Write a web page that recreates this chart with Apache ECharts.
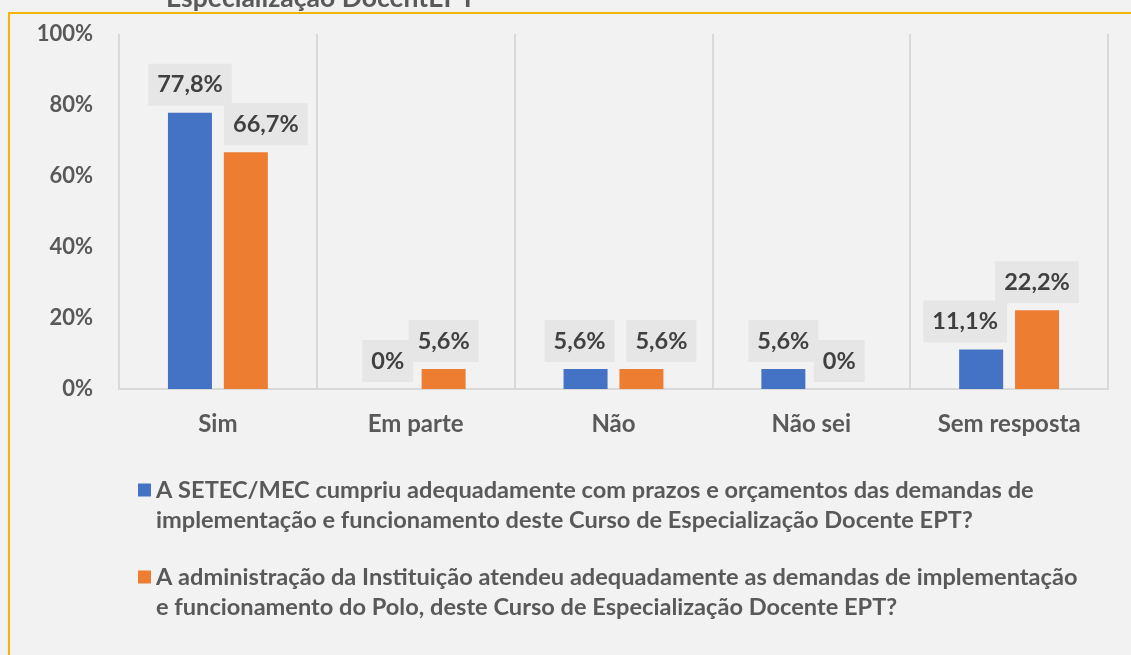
<!DOCTYPE html>
<html lang="pt">
<head>
    <meta charset="UTF-8">
    <title>echarts</title>
    <style>
        html, body { margin: 0; padding: 0; background: #f2f2f2; }
    </style>
    <script src="https://cdn.jsdelivr.net/npm/echarts@6/dist/echarts.min.js"></script>
</head>
<body>
<div id="main" style="width:1131px;height:655px"></div>
<script>
    var categories = ['Sim', 'Em parte', 'Não', 'Não sei', 'Sem resposta'];
    var setecValues = [77.8, 0, 5.6, 5.6, 11.1];
    var instValues = [66.7, 5.6, 5.6, 0, 22.2];
    var yTicks = [0, 20, 40, 60, 80, 100];
    var setecName = 'A SETEC/MEC cumpriu adequadamente com prazos e orçamentos das demandas de\nimplementação e funcionamento deste Curso de Especialização Docente EPT?';
    var instName = 'A administração da Instituição atendeu adequadamente as demandas de implementação\ne funcionamento do Polo, deste Curso de Especialização Docente EPT?';

    // where Excel nudged the labels sideways
    var setecShift = [0, 0, -6, 0, -16];
    var instShift = [20, 0, 20, 0, 0];

    var font = 'Lato, "Noto Sans", sans-serif';

    function fmt(v) {
        return v === 0 ? '0%' : v.toFixed(1).replace('.', ',') + '%';
    }

    function withLabels(values, shifts) {
        return values.map(function (v, i) {
            return { value: v, label: { offset: [shifts[i], 0] } };
        });
    }

    var barLabel = {
        show: true,
        position: 'top',
        distance: 7,
        formatter: function (p) { return fmt(p.value); },
        fontFamily: font,
        fontWeight: 'bold',
        fontSize: 23.5,
        color: '#404040',
        backgroundColor: '#e6e6e6',
        padding: [9, 9]
    };

    var myChart = echarts.init(document.getElementById('main'));
    var option = {
        backgroundColor: '#f2f2f2',
        animation: false,
        title: {
            text: 'Especialização DocentEPT',
            left: 161,
            top: -20,
            textStyle: { fontFamily: font, fontWeight: 'bold', fontSize: 26.5, color: '#595959' }
        },
        graphic: [{
            type: 'rect',
            silent: true,
            z: -1,
            shape: { x: 9, y: 13, width: 1200, height: 700 },
            style: { fill: null, stroke: '#f5b400', lineWidth: 2 }
        }],
        grid: { left: 119, right: 23, top: 34, bottom: 266 },
        xAxis: {
            type: 'category',
            data: categories,
            axisTick: { show: false },
            axisLine: { lineStyle: { color: '#d9d9d9', width: 2 } },
            splitLine: { show: true, lineStyle: { color: '#d9d9d9', width: 2 } },
            axisLabel: {
                margin: 23,
                fontFamily: font, fontWeight: 'bold', fontSize: 24, color: '#595959'
            }
        },
        yAxis: {
            type: 'value',
            min: yTicks[0],
            max: yTicks[yTicks.length - 1],
            interval: 20,
            splitLine: { show: false },
            axisLine: { show: false },
            axisTick: { show: false },
            axisLabel: {
                margin: 26,
                formatter: '{value}%',
                fontFamily: font, fontWeight: 'bold', fontSize: 22, color: '#595959'
            }
        },
        legend: {
            orient: 'vertical',
            left: 133,
            top: 440,
            itemWidth: 13,
            itemHeight: 13,
            itemGap: -3,
            icon: 'rect',
            // blank first line so the marker sits beside the first text line
            formatter: function (name) { return '\n' + name; },
            textStyle: {
                fontFamily: font, fontWeight: 'bold', fontSize: 23.6, color: '#595959',
                lineHeight: 30
            },
            data: [setecName, instName]
        },
        series: [{
            name: setecName,
            type: 'bar',
            barWidth: 44,
            barGap: '27%',
            itemStyle: { color: '#4472c4' },
            label: barLabel,
            data: withLabels(setecValues, setecShift)
        }, {
            name: instName,
            type: 'bar',
            barWidth: 44,
            itemStyle: { color: '#ed7d31' },
            label: barLabel,
            data: withLabels(instValues, instShift)
        }]
    };
    myChart.setOption(option);
</script>
</body>
</html>
